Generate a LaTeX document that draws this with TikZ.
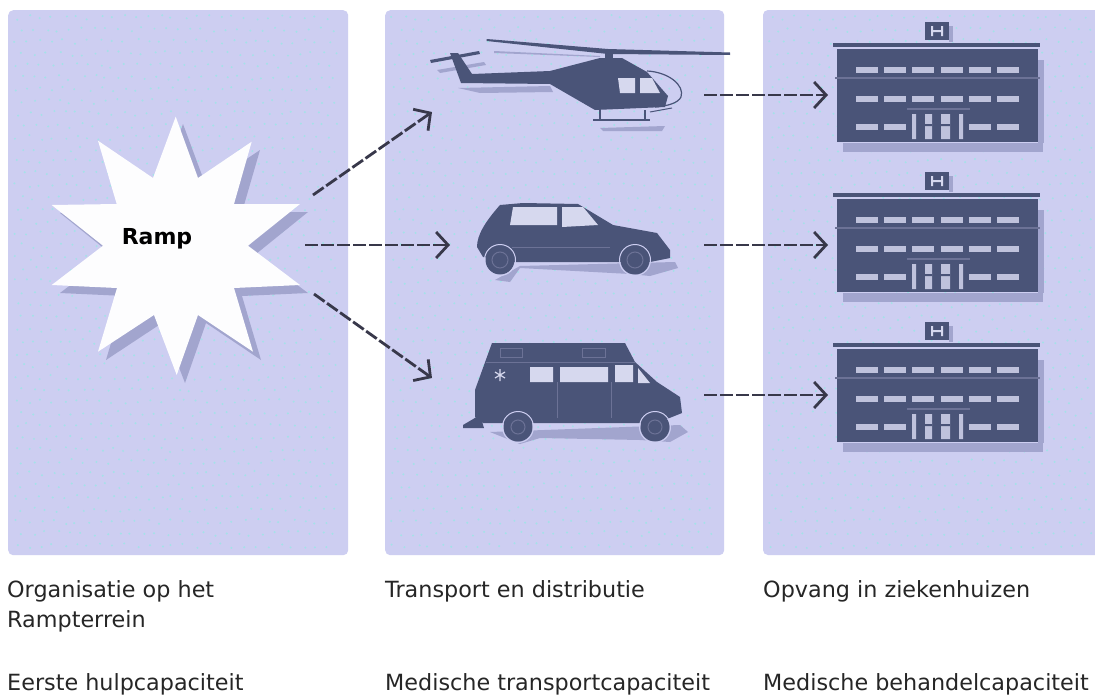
\documentclass[tikz,border=0pt]{standalone}
\usepackage{fontspec}
\setmainfont{DejaVu Sans}
\usetikzlibrary{arrows.meta}
\definecolor{panel}{HTML}{CDCEF1}
\definecolor{speck}{HTML}{A4E2E8}
\definecolor{ink}{HTML}{4A5478}
\definecolor{dusk}{HTML}{A2A5CE}
\definecolor{midink}{HTML}{6C7296}
\definecolor{glass}{HTML}{D6D8EE}
\definecolor{pane}{HTML}{BFC2DC}
\definecolor{arrowc}{HTML}{38384A}
\tikzset{
  x=1pt,y=-1pt,
  panelbox/.style={fill=panel,draw=none,rounded corners=5pt},
  caption/.style={anchor=base west,inner sep=0pt,text=black!85,font=\fontsize{22.3}{26}\selectfont},
  flow/.style={draw=arrowc,line width=2.8pt,dash pattern=on 13pt off 3pt,
    -{Straight Barb[length=12pt,width=26pt,line width=2.8pt]}},
  inkfill/.style={fill=ink,draw=none},
  duskfill/.style={fill=dusk,draw=none},
  glassfill/.style={fill=glass,draw=none},
  panefill/.style={fill=pane,draw=none},
}
\newcommand{\specks}[3]{%
  \pgfmathsetseed{#1}%
  \foreach \ix in {0,...,#3}{%
    \foreach \iy in {0,...,44}{%
      \pgfmathsetmacro{\sx}{#2+6+\ix*12+6*mod(\iy,2)+rnd*5}%
      \pgfmathsetmacro{\sy}{15+\iy*12+rnd*5}%
      \fill[speck] (\sx,\sy) circle (1.1);
    }}}
\newcommand{\hospital}[1]{%
  \begin{scope}[yshift=#1]
    \fill[duskfill] (843,143) rectangle (1043,152);
    \fill[duskfill] (1038,60) rectangle (1044,143);
    \fill[duskfill] (949,26) rectangle (953,42);
    \fill[inkfill] (925,22) rectangle (949,40);
    \fill[glassfill] (931,26) rectangle (933,36) (941,26) rectangle (943,36) (933,30) rectangle (941,32);
    \fill[inkfill] (833,43) rectangle (1040,47);
    \fill[inkfill] (837,49) rectangle (1038,142);
    \fill[midink] (835,77) rectangle (1040,79);
    \foreach \wx in {867,895,923,952,980,1008}{
      \fill[panefill] (\wx-11,67) rectangle (\wx+11,73);
      \fill[panefill] (\wx-11,96) rectangle (\wx+11,102);
    }
    \foreach \wx in {867,895,980,1008}{
      \fill[panefill] (\wx-11,124) rectangle (\wx+11,130);
    }
    \fill[midink] (907,108) rectangle (970,110);
    \fill[panefill] (912,114) rectangle (916,139) (959,114) rectangle (963,139);
    \fill[panefill] (925,114) rectangle (932,139) (941,114) rectangle (950,139);
    \fill[ink] (925,124) rectangle (932,126) (941,124) rectangle (950,126);
  \end{scope}}
\begin{document}
\begin{tikzpicture}
\useasboundingbox (0,0) rectangle (1095,696);
\fill[white] (0,0) rectangle (1095,696);
% panels
\node[panelbox,minimum width=340pt,minimum height=545pt,inner sep=0pt,anchor=north west] (left) at (8,10) {};
\node[panelbox,minimum width=339pt,minimum height=545pt,inner sep=0pt,anchor=north west] (middle) at (385,10) {};
\fill[panel,rounded corners=5pt] (763,10) rectangle (1105,555);
\specks{11}{8}{26}
\specks{23}{385}{26}
\specks{37}{763}{26}
% star
\fill[duskfill] (183,124) -- (206,186) -- (260,150) -- (242,212) -- (308,212) -- (256,254) -- (308,293) -- (242,296) -- (261,360) -- (206,323) -- (185,383) -- (162,323) -- (106,360) -- (125,296) -- (60,293) -- (111,254) -- (60,213) -- (125,212) -- (106,149) -- (161,186) -- cycle;
\fill[white!97!panel] (175.7,116.7) -- (198,178) -- (251.7,141.7) -- (234,204) -- (300,204) -- (248,245.7) -- (300,285) -- (234,288) -- (253,351.7) -- (198,315) -- (176.7,375) -- (154,315) -- (98,351.7) -- (117,288) -- (51.7,285) -- (103,245.7) -- (51.7,205) -- (116.7,204) -- (98,140.7) -- (153,178) -- cycle;
\node[inner sep=0pt,font=\fontsize{22}{26}\selectfont\bfseries,text=black] (ramp) at (157,239) {Ramp};
% helicopter
\begin{scope}
  \fill[duskfill] (458,88) -- (550,86) -- (553,92) -- (480,93) -- cycle;
  \fill[duskfill] (600,128) -- (665,126) -- (662,131) -- (603,131) -- cycle;
  \fill[duskfill] (437,70) -- (484,62) -- (486,65) -- (440,73) -- cycle;
  \fill[duskfill] (494,51) -- (600,56) -- (600,57) -- (494,53) -- cycle;
  \fill[inkfill] (486.7,39) -- (608,49) -- (730,52.5) -- (730,55) -- (608,54) -- (486.7,41) -- cycle;
  \fill[inkfill] (605,50) rectangle (613,60);
  \fill[inkfill] (430,60) -- (479,51) -- (480,54) -- (431,63) -- cycle;
  \fill[inkfill] (450,53) -- (458,53) -- (472,74) -- (550,71) -- (600,58) -- (622,58) -- (647,72) -- (668,96) -- (665,107) -- (595,110) -- (550,84) -- (461,83) -- cycle;
  \draw[ink,line width=1.2pt] (647,71) .. controls (668,72) and (685,85) .. (681,97) .. controls (678,103) and (668,106) .. (655,107);
  \fill[glassfill] (618,78) -- (635,78) -- (635,93) -- (620,93) -- cycle;
  \fill[glassfill] (640,78) -- (652,78) -- (660,93) -- (640,93) -- cycle;
  \draw[ink,line width=1.6pt] (593,120) -- (650,120) (600,110) -- (600,120) (645,110) -- (645,120);
  \draw[ink,line width=1pt] (650,112) -- (672,108);
\end{scope}
\coordinate (heliIn) at (432,112);
\coordinate (heliOut) at (704,95);
% car
\begin{scope}
  \fill[duskfill] (520,266) -- (675,262) -- (678,268) -- (650,276) -- (630,274) -- (520,268) -- (510,282) -- (495,280) -- cycle;
  \fill[inkfill] (477,247) .. controls (477,235) and (485,222) .. (500,205) -- (523,203) -- (578,204) -- (613,225) -- (657,233) -- (670,250) -- (670,258) -- (650,262) -- (513,262) -- (483,257) -- cycle;
  \fill[glassfill] (513,207) -- (557,207) -- (557,225) -- (510,225) -- cycle;
  \fill[glassfill] (562,207) -- (583,207) -- (598,225) -- (562,227) -- cycle;
  \draw[midink,line width=0.8pt] (512,247) -- (610,247);
  \fill[ink] (500,260) circle (14.5) (635,260) circle (14.5);
  \draw[midink,line width=1pt] (500,260) circle (8) (635,260) circle (8);
  \draw[panel,line width=1pt] (500,260) circle (15.5);
  \draw[panel,line width=1pt] (635,260) circle (15.5);
\end{scope}
\coordinate (carIn) at (450,245);
\coordinate (carOut) at (704,245);
% ambulance
\begin{scope}
  \fill[duskfill] (490,432) -- (680,425) -- (688,432) -- (670,442) -- (640,440) -- (540,438) -- (520,444) -- cycle;
  \fill[inkfill] (492,343) -- (625,343) -- (635,362) -- (657,382) -- (680,397) -- (682,413) -- (657,423) -- (483,423) -- (475,417) -- (475,390) -- cycle;
  \fill[inkfill] (463,425) -- (480,415) -- (484,428) -- (463,428) -- cycle;
  \fill[glassfill] (530,367) rectangle (553,382) (560,367) rectangle (608,382) (615,365) rectangle (633,382);
  \fill[glassfill] (638,368) -- (650,383) -- (638,383) -- cycle;
  \draw[midink,line width=1pt] (500,348) rectangle (522,357) (582,348) rectangle (605,357);
  \draw[glass,line width=1.2pt] (500,369) -- (500,381) (495,372) -- (505,378) (505,372) -- (495,378);
  \draw[midink,line width=0.8pt] (557,382) -- (557,418) (611,382) -- (611,418) (486,362) -- (635,362);
  \fill[ink] (518,427) circle (14.5) (655,427) circle (14.5);
  \draw[midink,line width=1pt] (518,427) circle (7) (655,427) circle (7);
  \draw[panel,line width=1pt] (518,427) circle (15.5);
  \draw[panel,line width=1pt] (655,427) circle (15.5);
\end{scope}
\coordinate (vanIn) at (432,378);
\coordinate (vanOut) at (704,395);
% hospitals
\hospital{0pt}
\hospital{-150pt}
\hospital{-300pt}
\coordinate (hospA) at (828,95);
\coordinate (hospB) at (828,245);
\coordinate (hospC) at (828,395);
% connectors
\coordinate (rampA) at (313,195);
\coordinate (rampB) at (305,245);
\coordinate (rampC) at (314,294);
\draw[flow] (rampA) -- (heliIn);
\draw[flow] (rampB) -- (carIn);
\draw[flow] (rampC) -- (vanIn);
\draw[flow] (heliOut) -- (hospA);
\draw[flow] (carOut) -- (hospB);
\draw[flow] (vanOut) -- (hospC);
% captions
\node[caption] (c1) at (7,597) {Organisatie op het};
\node[caption] (c2) at (7,627) {Rampterrein};
\node[caption] (c3) at (7,690) {Eerste hulpcapaciteit};
\node[caption] (c4) at (385,597) {Transport en distributie};
\node[caption] (c5) at (385,690) {Medische transportcapaciteit};
\node[caption] (c6) at (763,597) {Opvang in ziekenhuizen};
\node[caption] (c7) at (763,690) {Medische behandelcapaciteit};
\end{tikzpicture}
\end{document}
